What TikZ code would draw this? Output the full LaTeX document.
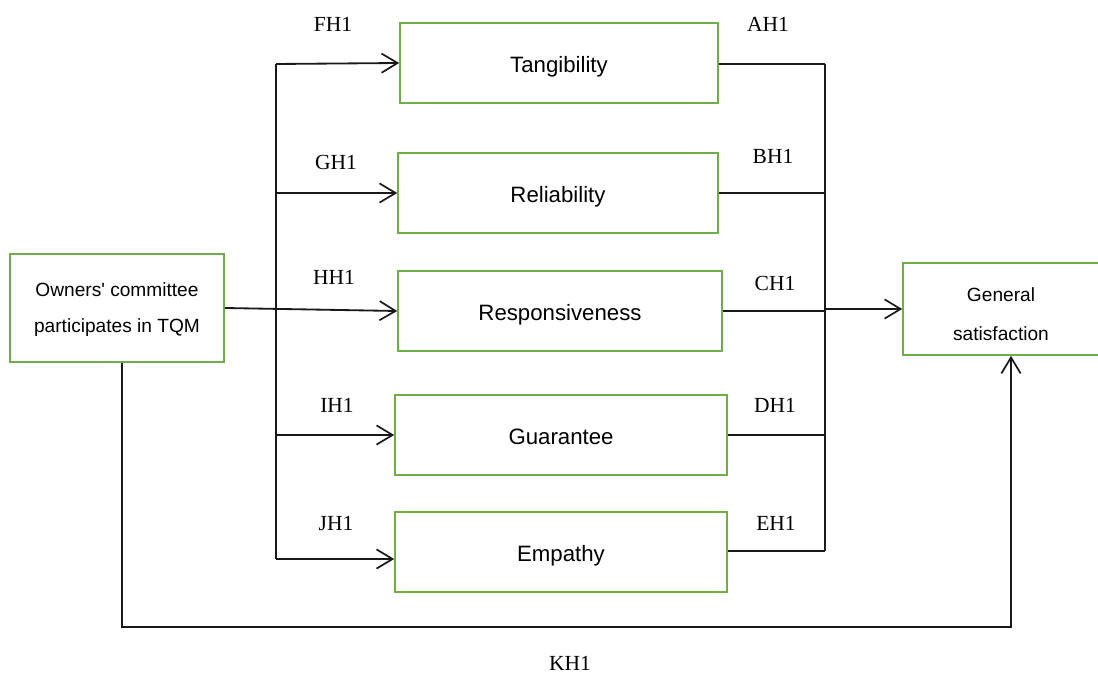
\documentclass[tikz,border=0pt]{standalone}
\usepackage{fontspec}
\setmainfont{Liberation Serif}
\setsansfont{Liberation Sans}
\usetikzlibrary{arrows.meta}
\definecolor{BoxClr}{RGB}{112,173,71}

\begin{document}
\begin{tikzpicture}[x=0.025cm,y=-0.025cm,
  box/.style={draw=BoxClr,line width=1.1pt,fill=white,inner sep=0pt,
    font=\sffamily\fontsize{15.8}{18}\selectfont,align=center,
    text height=14pt,text depth=0pt},
  smallbox/.style={box,font=\sffamily\fontsize{13.6}{25.6}\selectfont,text height=35pt},
  hyp/.style={anchor=base,font=\fontsize{15.3}{18}\selectfont},
  link/.style={line width=1.3pt,color=black!90},
  arr/.style={link,-{Straight Barb[length=4mm,width=4.8mm,line width=1.2pt]}}]
\useasboundingbox (0,0) rectangle (1098,675);

% boxes
\node[smallbox,minimum width=5.35cm,minimum height=2.7cm] (owner) at (117,308) {Owners\textquotesingle{} committee\\participates in TQM};
\node[box,minimum width=7.95cm,minimum height=2cm] (tang) at (559,63) {Tangibility};
\node[box,minimum width=8cm,minimum height=2cm] (rel) at (558,193) {Reliability};
\node[box,minimum width=8.1cm,minimum height=2cm] (resp) at (560,311) {Responsiveness};
\node[box,minimum width=8.3cm,minimum height=2cm] (guar) at (561,435) {Guarantee};
\node[box,minimum width=8.3cm,minimum height=2cm] (emp) at (561,552) {Empathy};
\node[smallbox,font=\sffamily\fontsize{13.6}{28.4}\selectfont,text height=45.5pt,minimum width=4.9cm,minimum height=2.3cm] (gen) at (1001,309) {General\\satisfaction};

% left bus
\coordinate (lt) at (276,64);
\coordinate (lb) at (276,559);
\draw[link] (lt) -- (lb);
\draw[arr] (lt) -- (tang.west);
\draw[arr] (rel.west -| lt) -- (rel.west);
\draw[arr] (owner.east) -- (resp.west);
\draw[arr] (guar.west -| lt) -- (guar.west);
\draw[arr] (lb) -- (lb -| emp.west);

% right bus
\coordinate (rt) at (825,64);
\coordinate (rb) at (825,551);
\draw[link] (rt) -- (rb);
\draw[link,line width=1.6pt] (rel.east -| rt) -- (guar.east -| rt);
\draw[link] (tang.east |- rt) -- (rt);
\draw[link] (rel.east) -- (rel.east -| rt);
\draw[link] (resp.east) -- (resp.east -| rt);
\draw[link] (guar.east) -- (guar.east -| rt);
\draw[link] (emp.east |- rb) -- (rb);
\draw[arr,line width=1.6pt] (gen.west -| rt) -- (gen.west);

% direct path
\coordinate (kl) at (122,627);
\coordinate (kr) at (1011,627);
\draw[arr] (owner.south -| kl) -- (kl) -- (kr) -- (kr |- gen.south);

% labels
\node[hyp] (fh) at (333,32) {FH1};
\node[hyp] (gh) at (336,170) {GH1};
\node[hyp] (hh) at (334,285) {HH1};
\node[hyp] (ih) at (337,412) {IH1};
\node[hyp] (jh) at (336,530) {JH1};
\node[hyp] (ah) at (768,32) {AH1};
\node[hyp] (bh) at (773,164) {BH1};
\node[hyp] (ch) at (775,290) {CH1};
\node[hyp] (dh) at (775,412) {DH1};
\node[hyp] (eh) at (776,530) {EH1};
\node[hyp] (kh) at (570,670) {KH1};

\end{tikzpicture}
\end{document}
